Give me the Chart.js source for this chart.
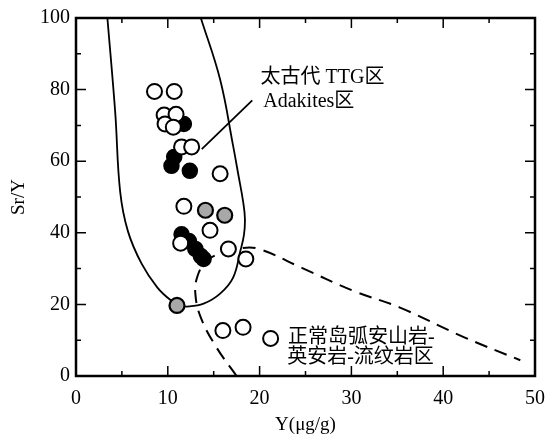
<!DOCTYPE html>
<html>
<head>
<meta charset="utf-8">
<script src="https://cdn.jsdelivr.net/npm/chart.js"></script>
<style>
  html, body { margin: 0; padding: 0; background: #fff; }
  #wrap { width: 556px; height: 441px; }
</style>
</head>
<body>
<div id="wrap"><canvas id="grafico" width="556" height="441"></canvas></div>
<script>
// pontos das amostras (Y, Sr/Y)
const abertosX = [8.55, 10.7, 9.6, 10.9, 9.7, 10.6, 11.5, 12.6, 15.7, 11.75, 14.6, 11.4, 16.6, 18.5, 16.0, 18.2, 21.2];
const abertosY = [79.5, 79.5, 72.9, 73.1, 70.4, 69.5, 64.0, 64.0, 56.5, 47.4, 40.7, 37.1, 35.5, 32.7, 12.7, 13.6, 10.5];

const cheiosX = [11.75, 10.7, 10.4, 12.4, 11.5, 12.3, 13.0, 13.6, 13.9];
const cheiosY = [70.4, 61.2, 58.7, 57.3, 39.6, 37.7, 35.5, 33.5, 32.7];

const cinzaX = [14.1, 16.2, 11.0];
const cinzaY = [46.3, 44.9, 19.7];

// campo Adakites / TTG (linha contínua)
const adakX = [3.42, 4.27, 4.81, 5.66, 7.16, 8.87, 10.36, 11.4, 12.07, 13.9, 15.7, 17.1, 17.9, 18.3, 18.4, 18.2, 17.7, 17.1, 15.7, 13.6];
const adakY = [100, 73.7, 51.5, 40.4, 31.3, 24.7, 21.1, 19.7, 19.4, 20.2, 23.0, 27.4, 34.9, 39.5, 44.0, 48.8, 56.0, 64.5, 82.8, 100];

// campo arco de ilhas (tracejado)
const arcoX = [17.5, 15.3, 13.6, 13.0, 13.25, 14.2, 15.8, 17.9, 19.9, 24.6, 30.2, 35.3, 42.3, 48.4];
const arcoY = [0, 8.0, 16.3, 23.0, 28.0, 32.1, 34.3, 35.7, 35.5, 30.2, 23.8, 19.1, 10.8, 4.4];

// linha de chamada do rótulo
const chamadaX = [13.7, 19.2];
const chamadaY = [63.4, 77.0];

const ticksX = [0, 10, 20, 30, 40, 50];
const ticksY = [0, 20, 40, 60, 80, 100];

const rotulos = [
  { texto: '太古代 TTG区', x: 20.1, y: 83.4 },
  { texto: 'Adakites区', x: 20.4, y: 76.5 },
  { texto: '正常岛弧安山岩-', x: 23.1, y: 10.8 },
  { texto: '英安岩-流纹岩区', x: 23.0, y: 5.0 }
];

function pares(xs, ys) {
  return xs.map((x, i) => ({ x: x, y: ys[i] }));
}

const fonteSerif = "'Liberation Serif', 'DejaVu Serif', serif";

// moldura e ticks para dentro
const molduraPlugin = {
  id: 'moldura',
  afterDraw(chart) {
    const { ctx, chartArea: a, scales } = chart;
    const sx = scales.x, sy = scales.y;
    ctx.save();
    ctx.strokeStyle = '#000';
    ctx.lineWidth = 1.5;
    for (let v = 0; v <= 50; v += 5) {
      const px = sx.getPixelForValue(v);
      const len = (v % 10 === 0) ? 10 : 5;
      ctx.beginPath();
      ctx.moveTo(px, a.bottom); ctx.lineTo(px, a.bottom - len);
      ctx.moveTo(px, a.top); ctx.lineTo(px, a.top + len);
      ctx.stroke();
    }
    for (let v = 0; v <= 100; v += 10) {
      const py = sy.getPixelForValue(v);
      const len = (v % 20 === 0) ? 10 : 5;
      ctx.beginPath();
      ctx.moveTo(a.left, py); ctx.lineTo(a.left + len, py);
      ctx.moveTo(a.right, py); ctx.lineTo(a.right - len, py);
      ctx.stroke();
    }
    ctx.lineWidth = 2.5;
    ctx.strokeRect(a.left, a.top, a.right - a.left, a.bottom - a.top);
    ctx.restore();
  }
};

const textoPlugin = {
  id: 'textos',
  afterDatasetsDraw(chart) {
    const { ctx, scales } = chart;
    ctx.save();
    ctx.fillStyle = '#000';
    ctx.font = "20px 'Liberation Serif', 'Noto Sans CJK SC', serif";
    ctx.textBaseline = 'middle';
    ctx.textAlign = 'left';
    rotulos.forEach(r => {
      ctx.fillText(r.texto, scales.x.getPixelForValue(r.x), scales.y.getPixelForValue(r.y));
    });
    ctx.restore();
  }
};

const ctx = document.getElementById('grafico').getContext('2d');

new Chart(ctx, {
  type: 'scatter',
  data: {
    datasets: [
      {
        label: 'abertos',
        data: pares(abertosX, abertosY),
        pointRadius: 7.5,
        pointBackgroundColor: '#fff',
        pointBorderColor: '#000',
        pointBorderWidth: 2
      },
      {
        label: 'cheios',
        data: pares(cheiosX, cheiosY),
        pointRadius: 7.5,
        pointBackgroundColor: '#000',
        pointBorderColor: '#000',
        pointBorderWidth: 1.5
      },
      {
        label: 'cinza',
        data: pares(cinzaX, cinzaY),
        pointRadius: 7.5,
        pointBackgroundColor: '#a8a8a8',
        pointBorderColor: '#000',
        pointBorderWidth: 2.2
      },
      {
        label: 'adakites',
        data: pares(adakX, adakY),
        showLine: true,
        tension: 0.4,
        borderColor: '#000',
        borderWidth: 1.8,
        pointRadius: 0
      },
      {
        label: 'arco',
        data: pares(arcoX, arcoY),
        showLine: true,
        tension: 0.4,
        borderColor: '#000',
        borderWidth: 2,
        borderDash: [13, 8],
        pointRadius: 0
      },
      {
        label: 'chamada',
        data: pares(chamadaX, chamadaY),
        showLine: true,
        borderColor: '#000',
        borderWidth: 1.8,
        pointRadius: 0
      }
    ]
  },
  options: {
    responsive: false,
    animation: false,
    events: [],
    layout: { padding: { top: 15, right: 12, left: 0, bottom: 0 } },
    plugins: {
      legend: { display: false },
      tooltip: { enabled: false }
    },
    scales: {
      x: {
        type: 'linear',
        min: 0,
        max: 50,
        afterFit(scale) { scale.height = 65; },
        afterBuildTicks(scale) { scale.ticks = ticksX.map(v => ({ value: v })); },
        grid: { display: false, drawTicks: false },
        border: { display: false },
        ticks: { color: '#000', padding: 11, font: { family: fonteSerif, size: 20 } },
        title: {
          display: true,
          text: 'Y(μg/g)',
          color: '#000',
          padding: { top: 0, bottom: 5 },
          font: { family: fonteSerif, size: 19 }
        }
      },
      y: {
        type: 'linear',
        min: 0,
        max: 100,
        afterFit(scale) { scale.width = 76; },
        afterBuildTicks(scale) { scale.ticks = ticksY.map(v => ({ value: v })); },
        grid: { display: false, drawTicks: false },
        border: { display: false },
        ticks: { color: '#000', padding: 6, font: { family: fonteSerif, size: 20 } },
        title: {
          display: true,
          text: 'Sr/Y',
          color: '#000',
          padding: { top: 8, bottom: 0 },
          font: { family: fonteSerif, size: 19 }
        }
      }
    }
  },
  plugins: [molduraPlugin, textoPlugin]
});
</script>
</body>
</html>
